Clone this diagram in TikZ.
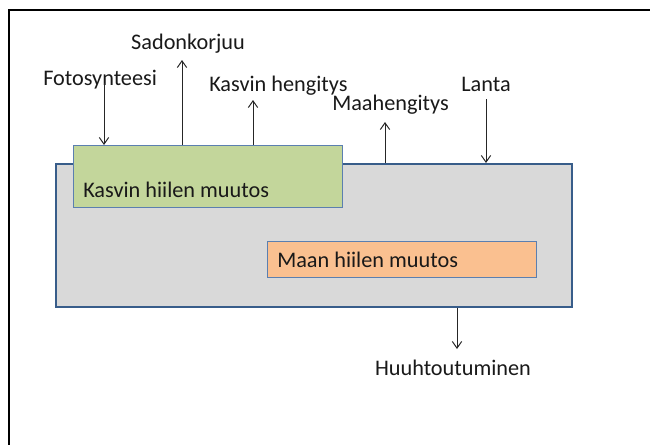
\documentclass[tikz,border=0pt]{standalone}
\usepackage{fontspec}
\setmainfont{Carlito}
\usepackage{tikz}
\usetikzlibrary{arrows.meta,calc}

\definecolor{soilgray}{HTML}{D9D9D9}
\definecolor{soilblue}{HTML}{385D8A}
\definecolor{plantgreen}{HTML}{C3D69B}
\definecolor{soilorange}{HTML}{FAC090}
\definecolor{boxedge}{HTML}{5B7FB0}

\tikzset{
	box/.style={rectangle, inner sep=0pt, anchor=north west},
	lbl/.style={inner sep=0pt, text=black!90, font=\fontsize{16.7}{20}\selectfont},
	flow/.style={draw=black!85, line width=0.75pt, -{Straight Barb[length=5pt,width=7pt]}}
}

\begin{document}
\begin{tikzpicture}[x=0.75pt, y=-0.75pt]
		\useasboundingbox (0,0) rectangle (650,444);
		\draw[line width=1.6pt] (9,460) -- (9,10) -- (670,10);

		\node[box, fill=soilgray, draw=soilblue, line width=1.6pt, minimum width=387pt, minimum height=107.25pt] (soil) at (55,163) {};
		\node[box, fill=plantgreen, draw=boxedge, line width=0.8pt, minimum width=201.75pt, minimum height=46.5pt] (plant) at (73,145) {};
		\node[box, fill=soilorange, draw=boxedge, line width=0.8pt, minimum width=201.75pt, minimum height=27pt] (soilc) at (267,241) {};

		\node[lbl, anchor=base west] (plantlbl) at (83,197) {Kasvin hiilen muutos};
		\node[lbl, anchor=base west] (soillbl) at (277,267) {Maan hiilen muutos};

		\node[lbl, anchor=base west] (photo) at (43,85) {Fotosynteesi};
		\node[lbl, anchor=base] (harvest) at (188,49) {Sadonkorjuu};
		\node[lbl, anchor=base west] (plantresp) at (209,91) {Kasvin hengitys};
		\node[lbl, anchor=base west] (soilresp) at (332,110) {Maahengitys};
		\node[lbl, anchor=base] (manure) at (486,91) {Lanta};
		\node[lbl, anchor=base] (leach) at (453,375) {Huuhtoutuminen};

		\coordinate (photoend) at (104,83);
		\coordinate (harvestend) at (182,60);
		\coordinate (plantrespend) at (253,100);
		\coordinate (soilrespend) at (385,122);
		\coordinate (manureend) at (486,99);
		\coordinate (leachend) at (457,349);

		\draw[flow] (photoend) -- (photoend |- plant.north);
		\draw[flow] (harvestend |- plant.north) -- (harvestend);
		\draw[flow] (plantrespend |- plant.north) -- (plantrespend);
		\draw[flow] (soilrespend |- soil.north) -- (soilrespend);
		\draw[flow] (manureend) -- (manureend |- soil.north);
		\draw[flow] (leachend |- soil.south) -- (leachend);

	\end{tikzpicture}
\end{document}
